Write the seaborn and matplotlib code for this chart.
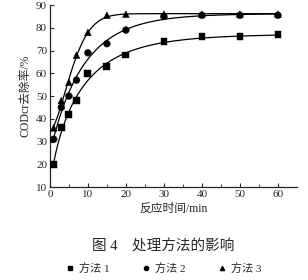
import numpy as np
import pandas as pd
import seaborn as sns
import matplotlib.pyplot as plt
from matplotlib.lines import Line2D

# Data
time = [1, 3, 5, 7, 10, 15, 20, 30, 40, 50, 60]
method1 = [20, 36, 42, 48, 60, 63, 68, 74, 76, 76, 77]
method2 = [31, 45, 50, 57, 69, 73, 79, 85, 85.5, 85.5, 85.5]
method3 = [36, 48, 56, 68, 78, 85.5, 86, 86, 86, 86, 86]
labels = ["方法 1", "方法 2", "方法 3"]
markers = {"方法 1": "s", "方法 2": "o", "方法 3": "^"}


def fit_curve(t, y, t_new):
    # fit y = A - B*exp(-k t^p), grid search on k and p
    t = np.asarray(t, float)
    y = np.asarray(y, float)
    best = None
    for p in np.linspace(0.8, 1.8, 21):
        for k in np.linspace(0.005, 0.6, 400):
            X = np.column_stack([np.ones_like(t), -np.exp(-k * t ** p)])
            coef, *_ = np.linalg.lstsq(X, y, rcond=None)
            err = np.sum((X @ coef - y) ** 2)
            if best is None or err < best[0]:
                best = (err, k, p, coef)
    _, k, p, (a, b) = best
    return a - b * np.exp(-k * t_new ** p)


rows = []
for lab, vals in zip(labels, [method1, method2, method3]):
    for t, v in zip(time, vals):
        rows.append({"time": t, "value": v, "method": lab})
df = pd.DataFrame(rows)

t_fine = np.linspace(0.8, 60, 300)
curves = []
for lab, vals in zip(labels, [method1, method2, method3]):
    for t, v in zip(t_fine, fit_curve(time, vals, t_fine)):
        curves.append({"time": t, "value": v, "method": lab})
cdf = pd.DataFrame(curves)

sns.set_style("ticks")
plt.rcParams["font.family"] = ["Liberation Serif", "Noto Sans CJK SC"]

fig = plt.figure(figsize=(3.08, 2.80), dpi=100)
ax = fig.add_axes([0.162, 0.332, 0.802, 0.65])

sns.lineplot(data=cdf, x="time", y="value", hue="method", units="method",
             estimator=None, palette=["black"] * 3, linewidth=0.9,
             legend=False, ax=ax)
sns.scatterplot(data=df, x="time", y="value", style="method", markers=markers,
                color="black", s=24, edgecolor="black", linewidth=0.3,
                legend=False, ax=ax, zorder=3)

ax.set_xlim(0, 65)
ax.set_ylim(10, 90)
ax.set_xticks([0, 10, 20, 30, 40, 50, 60])
ax.set_xticks(np.arange(5, 65, 10), minor=True)
ax.set_yticks(range(10, 91, 10))
ax.tick_params(direction="in", length=3, width=0.8, labelsize=8, pad=2)
ax.tick_params(which="minor", direction="in", length=2, width=0.6)
sns.despine(ax=ax)
for s in ["left", "bottom"]:
    ax.spines[s].set_linewidth(0.9)

ax.set_xlabel("反应时间/min", fontsize=8.5, labelpad=3)
ax.set_ylabel("CODcr去除率/%", fontsize=8.5, labelpad=3)

fig.text(0.53, 0.118, "图 4    处理方法的影响", ha="center", va="center", fontsize=10.5)

handles = [Line2D([], [], marker=markers[l], color="black", linestyle="none",
                  markersize=3) for l in labels]
fig.legend(handles, labels, loc="center", bbox_to_anchor=(0.53, 0.042), ncol=3,
           frameon=False, fontsize=8, handletextpad=0.3, columnspacing=2.8,
           handlelength=1.0)

fig.savefig("out.png", dpi=100)
